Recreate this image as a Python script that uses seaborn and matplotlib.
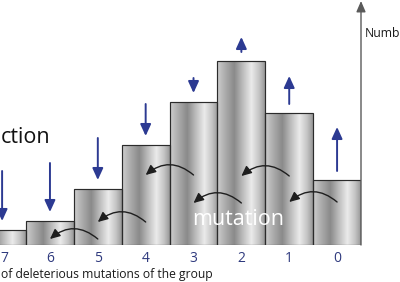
import numpy as np
import pandas as pd
import matplotlib
matplotlib.use("Agg")
import matplotlib.pyplot as plt
import seaborn as sns
from matplotlib.colors import LinearSegmentedColormap
from matplotlib.patches import FancyArrowPatch
from matplotlib.transforms import ScaledTranslation

# ---- data ----
categories = ["7", "6", "5", "4", "3", "2", "1", "0"]
group_counts = [15, 24, 56, 100, 143, 184, 132, 65]
# selection arrows: negative = pushed down, positive = pushed up
selection = [-50, -49, -42, -32, -15, 15, 28, 44]
# mutation arcs: from category -> next category to the left, at a given height
arc_from = ["0", "1", "2", "3", "4", "5"]
arc_level = [43, 69, 42, 70, 23, 6]

# visible text fragments (the reference crops them at the image edges)
xlabel_text = "of deleterious mutations of the group"
ylabel_text = "Numb"
selection_text = "ction"
mutation_text = "mutation"

sns.set_style("white")
plt.rcParams["font.family"] = ["Open Sans", "DejaVu Sans"]

fig = plt.figure(figsize=(4.0, 2.82), dpi=100)
W, H = 400, 282
base_px = 245
top_px = 1
left_px, right_px = 0, 361
ax = fig.add_axes([left_px / W, (H - base_px) / H, (right_px - left_px) / W, (base_px - top_px) / H])

df = pd.DataFrame({"mutations": categories, "count": group_counts})
sns.barplot(data=df, x="mutations", y="count", order=categories, width=1.0,
            color="white", edgecolor="#2b2b2b", linewidth=0.85, ax=ax, zorder=2)

# metallic gradient inside bars
stops = [(0.0, "#cfcfcf"), (0.14, "#b2b2b2"), (0.36, "#8a8a8a"), (0.56, "#c2c2c2"),
         (0.72, "#ebebeb"), (0.88, "#c4c4c4"), (1.0, "#989898")]
cmap = LinearSegmentedColormap.from_list("metal", stops)
grad = np.linspace(0, 1, 256)[None, :]
for p in list(ax.patches):
    p.set_facecolor("none")
    x0 = p.get_x(); w = p.get_width(); h = p.get_height()
    im = ax.imshow(grad, cmap=cmap, extent=[x0, x0 + w, 0, h], aspect="auto",
                   origin="lower", zorder=1.5, interpolation="bilinear")
    im.set_clip_path(p)

ax.set_xlim(-0.044, 7.5)
ax.set_ylim(0, base_px - top_px)
for s in ax.spines.values():
    s.set_visible(False)
ax.set_yticks([])
ax.set_xlabel("")
ax.set_ylabel("")
ax.tick_params(axis="x", length=0, pad=4.5, labelsize=10, labelcolor="#2f3a7e")
# first tick label sits at the very edge of the image: nudge it inside
first = ax.get_xticklabels()[0]
first.set_transform(first.get_transform() + ScaledTranslation(2.5 / 100, 0, fig.dpi_scale_trans))

# vertical axis with arrow
ax.annotate("", xy=(7.5, 1.0), xycoords=("data", "axes fraction"),
            xytext=(7.5, 0.0), textcoords=("data", "axes fraction"),
            arrowprops=dict(arrowstyle="-|>,head_length=0.65,head_width=0.28",
                            mutation_scale=10, color="#5a5a5a", lw=1.0,
                            shrinkA=0, shrinkB=0), zorder=5)

# selection arrows
gap = 9
blue = "#2c3a92"
for i, (h, s) in enumerate(zip(group_counts, selection)):
    if s < 0:
        tail, tip = h + gap - s, h + gap
    else:
        tail, tip = h + gap, h + gap + s
    ax.annotate("", xy=(i, tip), xytext=(i, tail),
                arrowprops=dict(arrowstyle="-|>,head_length=0.7,head_width=0.32",
                                mutation_scale=10, color=blue, lw=1.4,
                                shrinkA=0, shrinkB=0), zorder=4)

# mutation arcs (from a bar to its left neighbour)
for src, lvl in zip(arc_from, arc_level):
    i = categories.index(src)
    arr = FancyArrowPatch((i, lvl), (i - 1, lvl), connectionstyle="arc3,rad=0.42",
                          arrowstyle="-|>,head_length=0.6,head_width=0.28",
                          mutation_scale=10, color="#1e1e1e", lw=1.0,
                          shrinkA=0, shrinkB=0, zorder=4)
    ax.add_patch(arr)

# texts
fig.text(1 / W, 1 - 278 / H, xlabel_text, ha="left", va="baseline",
         fontsize=8.7, color="#1a1a1a")
fig.text(50 / W, 1 - 143 / H, selection_text, ha="right", va="baseline",
         fontsize=15.5, color="#111111")
fig.text(365 / W, 1 - 37 / H, ylabel_text, ha="left", va="baseline",
         fontsize=8.8, color="#1a1a1a")
fig.text(192 / W, 1 - 225 / H, mutation_text, ha="left", va="baseline",
         fontsize=15.5, color="white", zorder=6)

fig.savefig("out.png", dpi=100)
